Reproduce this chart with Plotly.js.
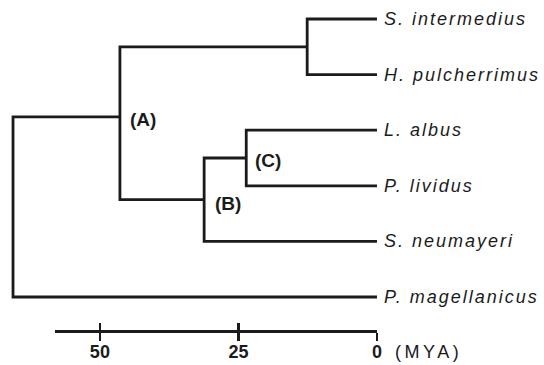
<!DOCTYPE html>
<html>
<head>
<meta charset="utf-8">
<script src="https://cdn.plot.ly/plotly-3.0.1.min.js"></script>
<style>
html, body { margin: 0; padding: 0; background: #ffffff; }
#chart { width: 544px; height: 365px; }
#chart .annotation[data-index="0"] text,
#chart .annotation[data-index="1"] text,
#chart .annotation[data-index="2"] text,
#chart .annotation[data-index="3"] text,
#chart .annotation[data-index="4"] text,
#chart .annotation[data-index="5"] text { letter-spacing: 2px; }
#chart .annotation[data-index="9"] text { letter-spacing: 3.5px; }
</style>
</head>
<body>
<div id="chart"></div>
<script>
// ---- data ----
const leafNames = ['S. intermedius', 'H. pulcherrimus', 'L. albus', 'P. lividus', 'S. neumayeri', 'P. magellanicus'];
const leafAges = [0, 0, 0, 0, 0, 0];           // MYA (tips are present day)
const leafRows = [0, 1, 2, 3, 4, 5];           // vertical order of tips
const nodeNames = ['A', 'B', 'C', 'D', 'root'];
const nodeAges = [46.4, 31.2, 23.6, 12.6, 65.7];   // MYA of each split
const nodeRows = [1.76, 3.25, 2.5, 0.5, null];      // row where the parent branch meets the node
const nodeChildren = [
  ['D', 'B'],
  ['C', 'S. neumayeri'],
  ['L. albus', 'P. lividus'],
  ['S. intermedius', 'H. pulcherrimus'],
  ['A', 'P. magellanicus']
];
const nodeLabels = ['(A)', '(B)', '(C)'];
const scaleTicks = [50, 25, 0];
const scaleTickText = ['50', '25', '0'];
const scaleStart = 58.1;
const scaleUnit = '(MYA)';

// ---- build tree geometry from the data ----
function pos(name) {
  const li = leafNames.indexOf(name);
  if (li >= 0) return { x: leafAges[li], y: leafRows[li] };
  const ni = nodeNames.indexOf(name);
  return { x: nodeAges[ni], y: nodeRows[ni] };
}
const treeX = [], treeY = [];
nodeNames.forEach((n, i) => {
  const a = pos(nodeChildren[i][0]);
  const b = pos(nodeChildren[i][1]);
  const age = nodeAges[i];
  treeX.push(a.x, age, age, b.x, null);
  treeY.push(a.y, a.y, b.y, b.y, null);
});

const ink = '#1b1b1b';
const FONT = 'Liberation Sans, Arial, Helvetica, sans-serif';

const traces = [
  {
    x: treeX, y: treeY, mode: 'lines', xaxis: 'x', yaxis: 'y',
    line: { color: ink, width: 2.8 }, hoverinfo: 'skip', showlegend: false
  },
  { x: [null], y: [null], xaxis: 'x2', yaxis: 'y', mode: 'markers', hoverinfo: 'skip', showlegend: false },
  { x: [null], y: [null], xaxis: 'x3', yaxis: 'y', mode: 'markers', hoverinfo: 'skip', showlegend: false }
];

// tip labels: annotations 0..5
const annotations = leafNames.map((t, i) => ({
  xref: 'x', yref: 'y', x: leafAges[i], y: leafRows[i], text: t, showarrow: false,
  xanchor: 'left', yanchor: 'middle', align: 'left', xshift: 5, yshift: 0,
  font: { family: FONT, size: 18, style: 'italic', color: ink }
}));
// node labels: annotations 6..8
const labelShifts = [[8, -3], [9, -4], [7, -2]];
nodeLabels.forEach((t, i) => annotations.push({
  xref: 'x', yref: 'y', x: nodeAges[i], y: nodeRows[i], text: t, showarrow: false,
  xanchor: 'left', yanchor: 'middle', xshift: labelShifts[i][0], yshift: labelShifts[i][1],
  font: { family: FONT, size: 19, weight: 'bold', color: ink }
}));
const W = 544, H = 365;
const scalePos = 1 - 331 / H;
// unit label: annotation 9
annotations.push({
  xref: 'x2', yref: 'paper', x: 0, y: scalePos, text: scaleUnit, showarrow: false,
  xanchor: 'left', yanchor: 'middle', align: 'left', xshift: 16, yshift: -21,
  font: { family: FONT, size: 18, color: ink }
});

const scaleAxis = {
  domain: [55 / W, 377 / W], anchor: 'free', position: scalePos,
  range: [scaleStart, 0], showgrid: false, zeroline: false,
  tickmode: 'array', tickvals: scaleTicks, ticktext: scaleTickText,
  tickcolor: ink, tickwidth: 2.5, ticklen: 8, fixedrange: true
};

const layout = {
  width: W, height: H,
  margin: { l: 0, r: 0, t: 0, b: 0, pad: 0 },
  paper_bgcolor: '#ffffff', plot_bgcolor: 'rgba(0,0,0,0)',
  showlegend: false,
  xaxis: { range: [68.05, -30.15], visible: false, fixedrange: true },
  yaxis: { range: [6.223, -0.342], visible: false, fixedrange: true },
  xaxis2: Object.assign({}, scaleAxis, {
    showline: true, linewidth: 2.5, linecolor: ink, ticks: 'outside',
    showticklabels: true, ticklabelstandoff: -4,
    tickfont: { family: FONT, size: 18, weight: 'bold', color: ink }
  }),
  xaxis3: Object.assign({}, scaleAxis, {
    showline: false, ticks: 'inside', showticklabels: false
  }),
  annotations: annotations
};

Plotly.newPlot('chart', traces, layout, { staticPlot: true, displayModeBar: false });
</script>
</body>
</html>
